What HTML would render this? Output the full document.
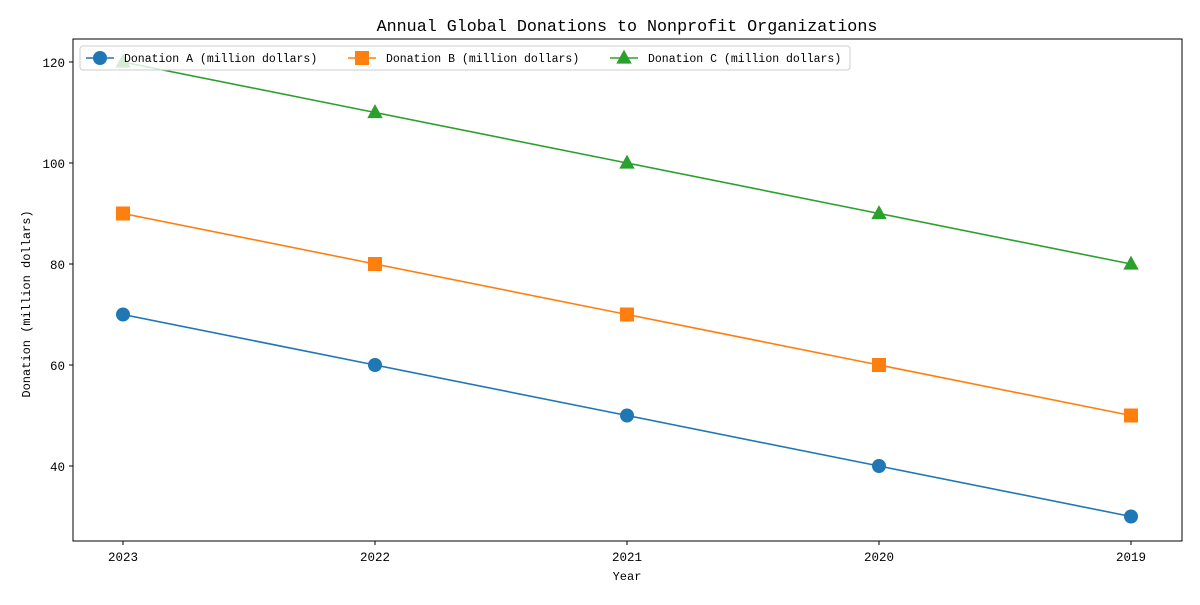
<!DOCTYPE html>
<html><head><meta charset="utf-8"><style>
body{margin:0;background:#fff}
svg text{font-family:"Liberation Mono",monospace;fill:#000}
</style></head><body>
<svg id="chart" width="1200" height="600" xmlns="http://www.w3.org/2000/svg">
<text x="627" y="31" font-size="16.7" text-anchor="middle">Annual Global Donations to Nonprofit Organizations</text>
<g id="plot"></g>
<text x="627" y="580" font-size="12" text-anchor="middle">Year</text>
<text transform="translate(30,304) rotate(-90)" font-size="12" text-anchor="middle">Donation (million dollars)</text>
</svg>
<script>
const categories = ['2023','2022','2021','2020','2019'];
const seriesA = [70,60,50,40,30];
const seriesB = [90,80,70,60,50];
const seriesC = [120,110,100,90,80];
const yTicks = [40,60,80,100,120];
const seriesNames = ['Donation A (million dollars)','Donation B (million dollars)','Donation C (million dollars)'];
const colors = ['#1f77b4','#ff7f0e','#2ca02c'];
const NS='http://www.w3.org/2000/svg';
const L=73,R=1182,T=39,B=541;
const yMin=25.15,yMax=124.55;
function xS(i){return 123+i*(1131-123)/(categories.length-1);}
function yS(v){return B-(v-yMin)/(yMax-yMin)*(B-T);}
const g=document.getElementById('plot');
function mk(tag,attrs){const e=document.createElementNS(NS,tag);for(const k in attrs)e.setAttribute(k,attrs[k]);g.appendChild(e);return e;}
const frame=mk('rect',{x:L,y:T,width:R-L,height:B-T,fill:'none',stroke:'#000','stroke-width':1});


categories.forEach((c,i)=>{
  const t=mk('line',{x1:xS(i),x2:xS(i),y1:B,y2:B+4,stroke:'#000'});
  
  
  const tx=mk('text',{x:xS(i),y:B+20,'font-size':12.5,'text-anchor':'middle'});tx.textContent=c;
  
  
});
yTicks.forEach(v=>{
  const t=mk('line',{x1:L-4,x2:L,y1:yS(v),y2:yS(v),stroke:'#000'});
  
  
  const tx=mk('text',{x:L-8,y:yS(v)+5,'font-size':12.5,'text-anchor':'end'});tx.textContent=v;
  
  
});
function marker(type,x,y,col,s){
  if(type===0)return mk('circle',{cx:x,cy:y,r:s,fill:col});
  if(type===1)return mk('rect',{x:x-s,y:y-s,width:2*s,height:2*s,fill:col});
  return mk('polygon',{points:`${x},${y-s*1.2} ${x-s*1.1},${y+s*0.8} ${x+s*1.1},${y+s*0.8}`,fill:col});
}
[seriesA,seriesB,seriesC].forEach((d,si)=>{
  const p=mk('polyline',{points:d.map((v,i)=>xS(i)+','+yS(v)).join(' '),fill:'none',stroke:colors[si],'stroke-width':1.6});
  
  
  d.forEach((v,i)=>{const m=marker(si,xS(i),yS(v),colors[si],7);
    
    });
});
const lg=mk('rect',{x:80,y:46,width:770,height:24,fill:'#fff','fill-opacity':0.8,stroke:'#ccc',rx:3});


const lx=[86,348,610];
seriesNames.forEach((n,i)=>{
  const l=mk('line',{x1:lx[i],x2:lx[i]+28,y1:58,y2:58,stroke:colors[i],'stroke-width':1.6});
  
  
  const m=marker(i,lx[i]+14,58,colors[i],7);
  
  
  const t=mk('text',{x:lx[i]+38,y:62,'font-size':11.5});t.textContent=n;
  
  
});
</script>
</body></html>
